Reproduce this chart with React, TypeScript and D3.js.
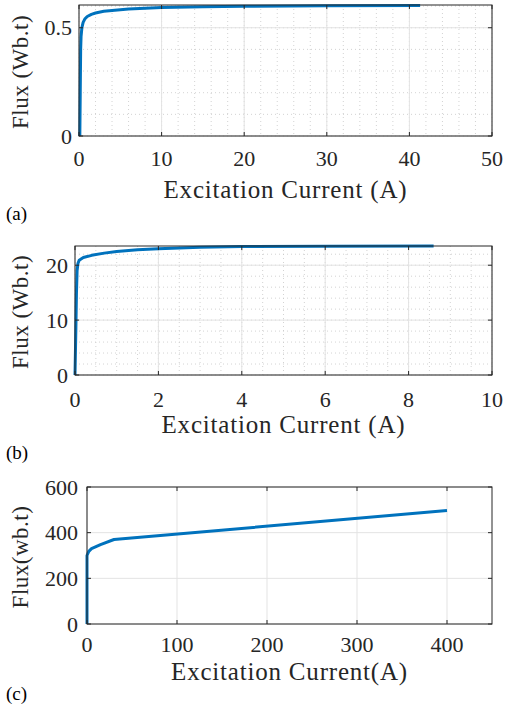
import React, { useEffect, useRef } from 'react';
import * as d3 from 'd3';

// panel (a)
const currentA = [0.1, 0.15, 0.2, 0.25, 0.35, 0.5, 0.7, 1, 1.5, 2, 3, 4, 6, 8, 10, 15, 20, 30, 41.3];
const fluxA = [0, 0.2, 0.4, 0.46, 0.5, 0.525, 0.54, 0.552, 0.562, 0.568, 0.576, 0.58, 0.586, 0.59, 0.593, 0.597, 0.599, 0.601, 0.603];
const xTicksA = [0, 10, 20, 30, 40, 50];
const yTicksA = [0, 0.5];

// panel (b)
const currentB = [0, 0.02, 0.035, 0.05, 0.07, 0.1, 0.2, 0.4, 0.7, 1, 1.5, 2, 3, 4, 6, 8.6];
const fluxB = [0, 8, 15, 19, 20.3, 20.9, 21.4, 21.8, 22.2, 22.5, 22.8, 23, 23.25, 23.4, 23.45, 23.5];
const xTicksB = [0, 2, 4, 6, 8, 10];
const yTicksB = [0, 10, 20];

// panel (c)
const currentC = [0, 0, 2, 5, 15, 30, 400];
const fluxC = [0, 300, 318, 330, 348, 370, 497];
const xTicksC = [0, 100, 200, 300, 400];
const yTicksC = [0, 200, 400, 600];

const FONT = "'Liberation Serif', serif";
const TXT = '#262626';
const BLUE = '#0072BD';

function drawPanel(svg, o) {
  const g = svg.append('g');
  const x = d3.scaleLinear().domain(o.xDomain).range([o.left, o.right]);
  const y = d3.scaleLinear().domain(o.yDomain).range([o.bottom, o.top]);

  // minor grid (dotted)
  if (o.xMinor) {
    g.selectAll('.xm').data(o.xMinor).enter().append('line')
      .attr('x1', d => x(d)).attr('x2', d => x(d))
      .attr('y1', o.top).attr('y2', o.bottom)
      .attr('stroke', '#c8c8c8').attr('stroke-width', 0.8)
      .attr('stroke-dasharray', '1,3');
    g.selectAll('.ym').data(o.yMinor).enter().append('line')
      .attr('y1', d => y(d)).attr('y2', d => y(d))
      .attr('x1', o.left).attr('x2', o.right)
      .attr('stroke', '#c8c8c8').attr('stroke-width', 0.8)
      .attr('stroke-dasharray', '1,3');
  }
  // major grid
  g.selectAll('.xg').data(o.xTicks).enter().append('line')
    .attr('x1', d => x(d)).attr('x2', d => x(d))
    .attr('y1', o.top).attr('y2', o.bottom)
    .attr('stroke', '#e3e3e3').attr('stroke-width', 1);
  g.selectAll('.yg').data(o.yTicks).enter().append('line')
    .attr('y1', d => y(d)).attr('y2', d => y(d))
    .attr('x1', o.left).attr('x2', o.right)
    .attr('stroke', '#e3e3e3').attr('stroke-width', 1);

  // curve
  const pts = o.xs.map((v, i) => [v, o.ys[i]]);
  g.append('path')
    .datum(pts)
    .attr('fill', 'none')
    .attr('stroke', BLUE)
    .attr('stroke-width', 3)
    .attr('stroke-linejoin', 'round')
    .attr('d', d3.line().x(d => x(d[0])).y(d => y(d[1])));

  // box
  g.append('rect')
    .attr('x', o.left).attr('y', o.top)
    .attr('width', o.right - o.left).attr('height', o.bottom - o.top)
    .attr('fill', 'none').attr('stroke', TXT).attr('stroke-width', 1);

  // ticks, inward, on all four sides
  const tl = 4;
  o.xTicks.forEach(t => {
    g.append('line').attr('x1', x(t)).attr('x2', x(t)).attr('y1', o.bottom).attr('y2', o.bottom - tl).attr('stroke', TXT);
    g.append('line').attr('x1', x(t)).attr('x2', x(t)).attr('y1', o.top).attr('y2', o.top + tl).attr('stroke', TXT);
  });
  o.yTicks.forEach(t => {
    g.append('line').attr('y1', y(t)).attr('y2', y(t)).attr('x1', o.left).attr('x2', o.left + tl).attr('stroke', TXT);
    g.append('line').attr('y1', y(t)).attr('y2', y(t)).attr('x1', o.right).attr('x2', o.right - tl).attr('stroke', TXT);
  });

  // tick labels
  g.selectAll('.xl').data(o.xTicks).enter().append('text')
    .attr('x', d => x(d)).attr('y', o.xLabelY)
    .attr('text-anchor', 'middle')
    .attr('font-family', FONT).attr('font-size', 22).attr('fill', TXT)
    .text(d => String(d));
  g.selectAll('.yl').data(o.yTicks).enter().append('text')
    .attr('x', o.left - o.yGap).attr('y', d => y(d))
    .attr('dy', '0.35em')
    .attr('text-anchor', 'end')
    .attr('font-family', FONT).attr('font-size', 22).attr('fill', TXT)
    .text(d => String(d));

  // axis titles
  g.append('text')
    .attr('x', (o.left + o.right) / 2).attr('y', o.titleY)
    .attr('text-anchor', 'middle')
    .attr('font-family', FONT).attr('font-size', 25).attr('letter-spacing', 0.8).attr('fill', TXT)
    .text(o.xTitle);
  g.append('text')
    .attr('transform', `translate(28,${o.yTitleC}) rotate(-90)`)
    .attr('text-anchor', 'middle')
    .attr('font-family', FONT).attr('font-size', 23).attr('letter-spacing', 0.5).attr('fill', TXT)
    .text(o.yTitle);

  // panel tag
  g.append('text')
    .attr('x', 6).attr('y', o.tagY)
    .attr('font-family', FONT).attr('font-size', 19).attr('fill', '#000')
    .text(o.tag);
}

export default function App() {
  const ref = useRef(null);

  useEffect(() => {
    const svg = d3.select(ref.current);
    svg.selectAll('*').remove();

    drawPanel(svg, {
      xs: currentA, ys: fluxA, xTicks: xTicksA, yTicks: yTicksA,
      xMinor: d3.range(0, 51, 2), yMinor: d3.range(0, 0.61, 0.1),
      xDomain: [0, 50], yDomain: [0, 0.605],
      left: 79, right: 492, top: 5, bottom: 136, yGap: 7,
      xLabelY: 166, titleY: 198, yTitleC: 72, tagY: 220,
      xTitle: 'Excitation Current (A)', yTitle: 'Flux (Wb.t)', tag: '(a)'
    });
    drawPanel(svg, {
      xs: currentB, ys: fluxB, xTicks: xTicksB, yTicks: yTicksB,
      xMinor: d3.range(0, 10.01, 0.5), yMinor: d3.range(0, 23.5, 2),
      xDomain: [0, 10], yDomain: [0, 23.5],
      left: 75, right: 492, top: 246, bottom: 375, yGap: 7,
      xLabelY: 407, titleY: 433, yTitleC: 312, tagY: 459,
      xTitle: 'Excitation Current (A)', yTitle: 'Flux (Wb.t)', tag: '(b)'
    });
    drawPanel(svg, {
      xs: currentC, ys: fluxC, xTicks: xTicksC, yTicks: yTicksC,
      xMinor: null, yMinor: null,
      xDomain: [0, 450], yDomain: [0, 600],
      left: 87, right: 492, top: 487, bottom: 624, yGap: 9,
      xLabelY: 652, titleY: 680, yTitleC: 557, tagY: 700,
      xTitle: 'Excitation Current(A)', yTitle: 'Flux(wb.t)', tag: '(c)'
    });
  }, []);

  return (
    <svg ref={ref} width={505} height={706}
      style={{ position: 'absolute', left: 0, top: 0, background: '#fff' }} />
  );
}
